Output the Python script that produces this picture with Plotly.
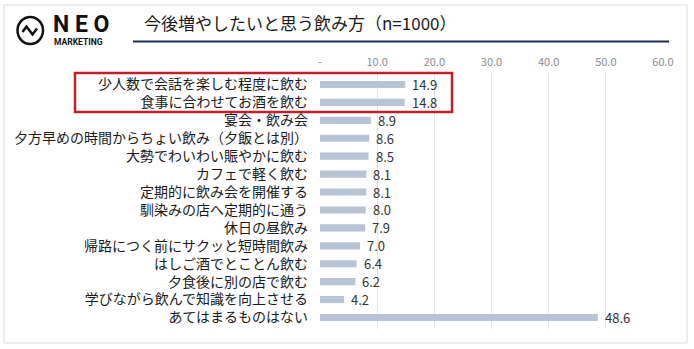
import plotly.graph_objects as go

categories = [
    "少人数で会話を楽しむ程度に飲む",
    "食事に合わせてお酒を飲む",
    "宴会・飲み会",
    "夕方早めの時間からちょい飲み（夕飯とは別）",
    "大勢でわいわい賑やかに飲む",
    "カフェで軽く飲む",
    "定期的に飲み会を開催する",
    "馴染みの店へ定期的に通う",
    "休日の昼飲み",
    "帰路につく前にサクッと短時間飲み",
    "はしご酒でとことん飲む",
    "夕食後に別の店で飲む",
    "学びながら飲んで知識を向上させる",
    "あてはまるものはない",
]
values = [14.9, 14.8, 8.9, 8.6, 8.5, 8.1, 8.1, 8.0, 7.9, 7.0, 6.4, 6.2, 4.2, 48.6]
tick_vals = [0, 10, 20, 30, 40, 50, 60]
tick_text = ["-", "10.0", "20.0", "30.0", "40.0", "50.0", "60.0"]
title_text = "今後増やしたいと思う飲み方（n=1000）"

W, H = 694, 349
L, R, T, B = 320, 31, 73, 20
PW, PH = W - L - R, H - T - B

def px(x):
    return (x - L) / PW

def py(y):
    return 1 - (y - T) / PH

JP = "Noto Sans CJK JP"

fig = go.Figure()
fig.add_trace(go.Bar(
    x=values, y=categories, orientation="h",
    marker=dict(color="#b8c4d6", line=dict(width=0)),
    hoverinfo="skip",
))

for c, v in zip(categories, values):
    fig.add_annotation(x=v, y=c, xref="x", yref="y", text=f"{v:.1f}",
                       showarrow=False, xanchor="left", xshift=5,
                       font=dict(family=JP, size=13, color="#333333"))

shapes = []
# outer frame
shapes.append(dict(type="rect", xref="paper", yref="paper",
                   x0=px(4), x1=px(687), y0=py(5), y1=py(343),
                   line=dict(color="#d9d9d9", width=1), layer="below"))
# title underline
shapes.append(dict(type="line", xref="paper", yref="paper",
                   x0=px(133), x1=px(669), y0=py(41.5), y1=py(41.5),
                   line=dict(color="#1f2d5a", width=2)))
# highlight box
shapes.append(dict(type="rect", xref="paper", yref="paper",
                   x0=px(75), x1=px(452), y0=py(73), y1=py(112),
                   line=dict(color="#c0202a", width=2.5)))
# logo circle
shapes.append(dict(type="circle", xref="paper", yref="paper",
                   x0=px(17.5), x1=px(43), y0=py(17), y1=py(44),
                   line=dict(color="#111111", width=2.5)))
# logo zigzag
zig = [(22.5, 32), (26.5, 26.5), (32.5, 34.5), (37, 28.5)]
path = "M " + " L ".join(f"{px(a)},{py(b)}" for a, b in zig)
shapes.append(dict(type="path", xref="paper", yref="paper", path=path,
                   line=dict(color="#111111", width=2.5)))

annotations = [
    dict(text="N E O", xref="paper", yref="paper", x=px(51), y=py(24.5),
         xanchor="left", yanchor="middle", showarrow=False,
         font=dict(family="Roboto", size=23, color="#111111", weight="bold")),
    dict(text="MARKETING", xref="paper", yref="paper", x=px(52), y=py(42),
         xanchor="left", yanchor="middle", showarrow=False,
         font=dict(family="Roboto", size=8.5, color="#111111", weight="bold")),
    dict(text=title_text, xref="paper", yref="paper", x=px(142), y=py(22),
         xanchor="left", yanchor="middle", showarrow=False,
         font=dict(family=JP, size=17, color="#1a1a1a")),
]

fig.update_layout(
    width=W, height=H, autosize=False,
    margin=dict(l=L, r=R, t=T, b=B, autoexpand=False),
    paper_bgcolor="white", plot_bgcolor="white",
    showlegend=False,
    bargap=0.6,
    shapes=shapes,
    annotations=list(fig.layout.annotations) + annotations,
    xaxis=dict(range=[0, 60], side="top", tickvals=tick_vals, ticktext=tick_text,
               showgrid=True, gridcolor="#e4e4e4", gridwidth=1,
               zeroline=False, showline=False, ticks="", automargin=False,
               tickfont=dict(family=JP, size=11, color="#8c8c8c"),
               ticklabelstandoff=4, fixedrange=True),
    yaxis=dict(autorange="reversed", showgrid=False, zeroline=False,
               showline=False, ticks="", ticklabelstandoff=11, automargin=False,
               tickfont=dict(family=JP, size=14, color="#1a1a1a"),
               fixedrange=True),
)

fig.write_html("out.html")
